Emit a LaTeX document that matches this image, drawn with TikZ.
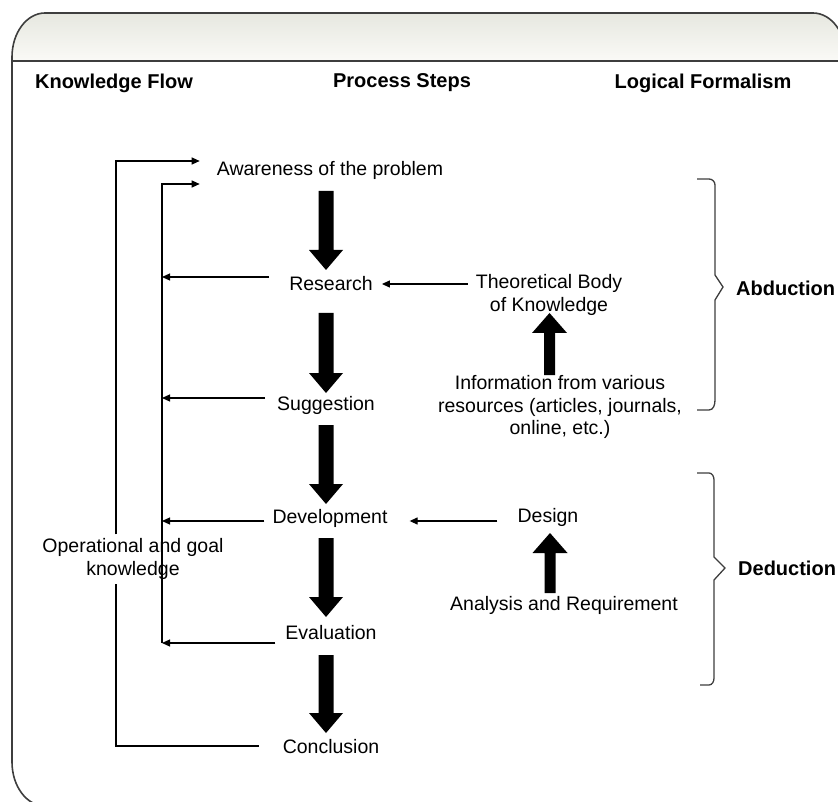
\documentclass[tikz,border=0pt]{standalone}
\usepackage{fontspec}
\setmainfont{Liberation Sans}
\usetikzlibrary{arrows.meta}
\definecolor{framec}{RGB}{62,62,62}
\definecolor{bartop}{RGB}{230,231,223}
\definecolor{barbot}{RGB}{250,250,247}
\newcommand\fatdown[3]{\fill (#1-7.5,#2) -- (#1-7.5,#3-20) -- (#1-17,#3-20) -- (#1,#3) -- (#1+17,#3-20) -- (#1+7.5,#3-20) -- (#1+7.5,#2) -- cycle;}
\newcommand\fatup[3]{\fill (#1-5.5,#2) -- (#1-5.5,#3+20) -- (#1-17.5,#3+20) -- (#1,#3) -- (#1+17.5,#3+20) -- (#1+5.5,#3+20) -- (#1+5.5,#2) -- cycle;}
\begin{document}
\begin{tikzpicture}[x=1pt,y=-1pt,
  txt/.style={font=\fontsize{19.5}{22.5}\selectfont, inner sep=0pt, align=center},
  hdr/.style={font=\fontsize{20}{24}\selectfont\bfseries, inner sep=0pt},
  tarr/.style={line width=1.2pt, -{Triangle[length=8pt,width=7pt]}},
  tline/.style={line width=1.2pt},
  frame/.style={draw=framec, line width=1.6pt},
  brace/.style={draw=framec, line width=1.3pt}]
\useasboundingbox (0,0) rectangle (838,802);
% frame
\begin{scope}
\clip (0,0) rectangle (838,802);
\shade[top color=bartop,bottom color=barbot] (12,61) -- (12,57) arc[start angle=180,end angle=90,x radius=33pt,y radius=44pt] -- (813,13) arc[start angle=90,end angle=0,x radius=33pt,y radius=44pt] -- (846,61) -- cycle;
\draw[frame] (846,810) -- (846,57) arc[start angle=0,end angle=90,x radius=33pt,y radius=44pt] -- (45,13) arc[start angle=90,end angle=180,x radius=33pt,y radius=44pt] -- (12,762) arc[start angle=180,end angle=270,x radius=33pt,y radius=44pt] -- (850,806);
\draw[frame] (12,61) -- (846,61);
\end{scope}
% headers
\node[hdr] (kf) at (114,83) {Knowledge Flow};
\node[hdr] (ps) at (402,83) {Process Steps};
\node[hdr] (lf) at (703,83) {Logical Formalism};
% process steps
\node[txt] (aw) at (330,170) {Awareness of the problem};
\node[txt] (res) at (331,284) {Research};
\node[txt] (sug) at (326,405) {Suggestion};
\node[txt] (dev) at (330,518) {Development};
\node[txt] (eva) at (331,633) {Evaluation};
\node[txt] (con) at (331,747) {Conclusion};
% right side
\node[txt] (tbk) at (549,295) {Theoretical Body\\of Knowledge};
\node[txt] (info) at (560,407) {Information from various\\resources (articles, journals,\\online, etc.)};
\node[txt] (des) at (548,517) {Design};
\node[txt] (ana) at (564,605) {Analysis and Requirement};
% left label
\node[txt, inner sep=4pt] (ok) at (133,559) {Operational and goal\\knowledge};
% logical formalism labels
\node[hdr, anchor=west] (abd) at (736,288) {Abduction};
\node[hdr, anchor=west] (ded) at (738,568) {Deduction};
% thick arrows
\fatdown{326}{191}{270}
\fatdown{326}{313}{393}
\fatdown{326}{425}{504}
\fatdown{326}{538}{617}
\fatdown{326}{655}{733}
\fatup{549.5}{375}{313}
\fatup{550}{593}{533}
% feedback lines
\coordinate (il) at (162,184);
\coordinate (ol) at (116,161);
\path (res.west) ++(-20,-7) coordinate (rs);
\path (sug.west) ++(-12,-7) coordinate (ss);
\path (dev.west) ++(-8,3) coordinate (dvs);
\path (eva.west) ++(-10,10) coordinate (es);
\path (con.west) ++(-24,-1) coordinate (cs);
\draw[tarr] (rs) -- (rs -| il);
\draw[tarr] (ss) -- (ss -| il);
\draw[tarr] (dvs) -- (dvs -| il);
\draw[tarr] (es) -- (es -| il);
\draw[tarr, shorten >=17pt] (es -| il) -- (il) -- (aw.west |- il);
\draw[tline] (cs) -- (cs -| ol) -- (ok.south -| ol);
\draw[tarr, shorten >=17pt] (ok.north -| ol) -- (ol) -- (aw.west |- ol);
% right connectors
\path (tbk.west) ++(-8,-11) coordinate (ts);
\draw[tarr, shorten >=9pt] (ts) -- (ts -| res.east);
\path (des.west) ++(-20,4) coordinate (ds);
\draw[tarr, shorten >=22pt] (ds) -- (ds -| dev.east);
% braces
\draw[brace] (697,179) -- (709,179) to[out=0,in=90] (715,185) -- (715,275) -- (723,287) -- (715,300) -- (715,400) to[out=-90,in=0] (709,410) -- (697,410);
\draw[brace] (697,473) -- (709,473) to[out=0,in=90] (714,480) -- (714,557) -- (725,568) -- (714,580) -- (714,678) to[out=-90,in=0] (709,685) -- (700,685);
\end{tikzpicture}
\end{document}
